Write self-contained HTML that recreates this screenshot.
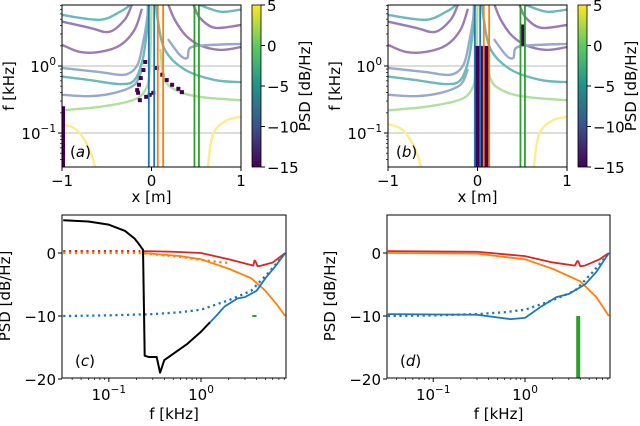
<!DOCTYPE html>
<html><head><meta charset="utf-8"><style>
body{margin:0;background:#fff}
svg{display:block;font-family:"DejaVu Sans","Liberation Sans",sans-serif}
</style></head><body>
<svg id="fig" width="640" height="426" viewBox="0 0 640 426" xmlns="http://www.w3.org/2000/svg">
<defs>
<linearGradient id="vir" x1="0" y1="1" x2="0" y2="0">
<stop offset="0" stop-color="#440154"/><stop offset="0.25" stop-color="#3b528b"/><stop offset="0.5" stop-color="#21918c"/><stop offset="0.75" stop-color="#5ec962"/><stop offset="1" stop-color="#fde725"/>
</linearGradient>
</defs>
</svg>
<script>
// ---- Data: top maps (x in m, log10 f in kHz) ----
const contourLevels = ['purple','purple','purple','purple','bluegrey','bluegrey','bluegrey','teal','teal','teal','teal','green','green','yellow','yellow'];
const contourPaths = [
 [[-0.99,0.31],[-0.80,0.21],[-0.58,0.21],[-0.35,0.31],[-0.19,0.54],[-0.11,0.84]],
 [[-0.99,0.66],[-0.69,0.57],[-0.47,0.51],[-0.30,0.69],[-0.22,0.91]],
 [[0.99,0.28],[0.77,0.24],[0.54,0.31],[0.38,0.46],[0.26,0.69],[0.19,0.91]],
 [[0.99,0.61],[0.71,0.57],[0.54,0.72],[0.47,0.91]],
 [[-0.99,-0.03],[-0.58,-0.09],[-0.30,-0.13],[-0.16,0.01],[-0.10,0.31],[-0.05,0.69],[-0.04,0.91]],
 [[-0.99,-0.43],[-0.69,-0.45],[-0.41,-0.40],[-0.19,-0.28],[-0.11,-0.06]],
 [[0.19,0.39],[0.32,0.16],[0.40,0.12],[0.43,0.27],[0.60,0.31],[0.99,0.33]],
 [[-0.99,-0.16],[-0.69,-0.21],[-0.35,-0.27],[-0.19,-0.21],[-0.10,0.09],[-0.05,0.54],[-0.03,0.91]],
 [[0.99,-0.24],[0.71,-0.21],[0.38,-0.06],[0.15,0.24],[0.07,0.69],[0.05,0.91]],
 [[-0.99,0.76],[-0.58,0.69],[-0.35,0.81],[-0.24,0.91]],
 [[0.54,0.91],[0.77,0.81],[0.99,0.84]],
 [[-0.99,-0.66],[-0.58,-0.61],[-0.21,-0.51],[-0.07,-0.36],[-0.02,-0.06],[0,0.91]],
 [[0.10,0.24],[0.15,-0.21],[0.32,-0.39],[0.54,-0.46],[0.77,-0.49],[0.99,-0.51]],
 [[-1.0,-0.87],[-0.86,-0.93],[-0.75,-1.10],[-0.67,-1.33],[-0.63,-1.51]],
 [[0.99,-0.76],[0.84,-0.81],[0.71,-0.96],[0.66,-1.18],[0.63,-1.51]]
];
const darkCellsA = [[-0.07,0.06],[-0.09,-0.06],[-0.12,-0.18],[-0.14,-0.28],[-0.16,-0.36],[-0.15,-0.40],[0.06,-0.03],[0.12,-0.13],[0.17,-0.21],[0.23,-0.28],[0.30,-0.34],[0.34,-0.39],[-0.13,-0.51],[-0.06,-0.46],[-0.02,-0.43],[0.02,-0.40]];
const vlineX = [-0.03,0.03,0.07,0.13,0.48,0.53];
const vlineColor = ['#1f77b4','#1f77b4','#ff7f0e','#ff7f0e','#2ca02c','#2ca02c'];
const cbTicks = [5,0,-5,-10,-15];
// ---- Data: bottom spectra (f in kHz, PSD in dB/Hz) ----
const cBlackF = [0.032,0.06,0.1,0.15,0.19,0.21,0.235,0.245,0.27,0.33,0.36,0.4,0.5,0.7,1.0,1.25];
const cBlackV = [5.2,5.0,4.5,3.5,2.3,1.5,0.5,-16.3,-16.5,-16.5,-19,-17,-16,-14.5,-12.5,-11];
const cBlueF = [1.2,1.5,1.8,2.5,3.0,4.0,5.0,6.5,8.2];
const cBlueV = [-11.3,-9.8,-8.5,-7.2,-7.0,-6.0,-4.0,-2.0,0];
const blueDotF = [0.032,0.1,0.3,0.6,1.0,2.0,3.5,5.5,8.2];
const blueDotV = [-10,-9.9,-9.7,-9.4,-9,-7.5,-6,-3,0];
const cRedDotF = [0.032,0.22];
const cRedDotV = [0.3,0.3];
const cRedF = [0.24,0.5,1.0,2.0,3.7,3.8,3.9,4.1,4.5,6.0,8.2];
const cRedV = [0.3,0.2,0,-1,-2,-1.2,-1.3,-2.1,-2,-1.5,0];
const cOrDotF = [0.032,0.22,0.6,1.0,2.0];
const cOrDotV = [0,0,-0.6,-1.1,-1.6];
const orangeF = [0.24,0.6,1.0,2.0,3.5,5.0,6.5,8.2];
const orangeV = [0,-0.5,-1,-2.5,-4,-6,-8,-10];
const cGreenF = [3.6,4.0];
const cGreenV = [-10,-10];
const dRedF = [0.032,0.3,1.0,2.0,3.5,3.7,3.8,4.0,4.5,6.5,8.2];
const dRedV = [0.3,0.2,-0.5,-1.5,-2,-1.3,-1.3,-2.1,-2,-1,0];
const dOrF = [0.032,0.3,1.0,2.0,4.0,6.0,8.2];
const dOrV = [0,-0.1,-1,-2.5,-4.5,-7,-10];
const dBlueF = [0.032,0.3,0.7,1.0,1.5,2.2,3.0,4.5,6.0,8.2];
const dBlueV = [-9.7,-9.8,-10.5,-10.3,-8.5,-7,-6.5,-5,-3,0];
const dGreenF = [3.8,3.8];
const dGreenV = [-20,-10];
const yTicksB = [0,-10,-20];

const NS='http://www.w3.org/2000/svg';
const svg=document.getElementById('fig');
const FS=15;
function el(tag,attrs,parent,text){const e=document.createElementNS(NS,tag);for(const k in attrs)e.setAttribute(k,attrs[k]);if(text!==undefined)e.textContent=text;(parent||svg).appendChild(e);return e;}
function smooth(pts){let d='M'+pts[0][0]+','+pts[0][1];
  for(let i=0;i<pts.length-1;i++){const p0=pts[Math.max(i-1,0)],p1=pts[i],p2=pts[i+1],p3=pts[Math.min(i+2,pts.length-1)];
    d+=' C'+(p1[0]+(p2[0]-p0[0])/6)+','+(p1[1]+(p2[1]-p0[1])/6)+' '+(p2[0]-(p3[0]-p1[0])/6)+','+(p2[1]-(p3[1]-p1[1])/6)+' '+p2[0]+','+p2[1];}
  return d;}
const cmap={purple:'#9a7cb2',bluegrey:'#9aa8cc',teal:'#6cbab8',green:'#b0e0a0',yellow:'#fcec8c'};

function topPanel(x0,label,isB,cbx){
  const x1=x0+179, y0=5, y1=167;
  const X=v=>x0+(v+1)/2*(x1-x0);
  const Y=lf=>66-67*lf;
  const g=el('g',{},svg);
  
  
  const cp=el('clipPath',{id:'clip'+label},g);el('rect',{x:x0,y:y0,width:x1-x0,height:y1-y0},cp);
  const inner=el('g',{'clip-path':'url(#clip'+label+')'},g);
  [0,-1].forEach(lf=>{const l=el('line',{x1:x0,x2:x1,y1:Y(lf),y2:Y(lf),stroke:'#c8c8c8','stroke-width':1.3},inner);
    });
  contourPaths.forEach((p,i)=>{
    const c=el('path',{d:smooth(p.map(q=>[X(q[0]),Y(q[1])])),fill:'none',stroke:cmap[contourLevels[i]],'stroke-width':2.4,'stroke-linecap':'round'},inner);
    
  });
  if(!isB){
    darkCellsA.forEach(q=>{const r=el('rect',{x:X(q[0])-2,y:Y(q[1])-2,width:4,height:4,fill:'#440154'},inner);
      });
    const eb=el('rect',{x:x0,y:Y(-0.6),width:3,height:y1-Y(-0.6),fill:'#440154'},inner);
    
  } else {
    const col=el('rect',{x:X(-0.03),y:Y(0.3),width:X(0.14)-X(-0.03),height:y1-Y(0.3),fill:'#440154'},inner);
    
    const col2=el('rect',{x:X(0.50)-2,y:Y(0.62),width:4,height:Y(0.3)-Y(0.62),fill:'#440154'},inner);
    
  }
  vlineX.forEach((v,i)=>{const l=el('line',{x1:X(v),x2:X(v),y1:y0,y2:y1,stroke:vlineColor[i],'stroke-width':1.8},inner);
    });
  const fr=el('rect',{x:x0,y:y0,width:x1-x0,height:y1-y0,fill:'none',stroke:'#000','stroke-width':1},g);
  
  [-1,0,1].forEach(v=>{el('line',{x1:X(v),x2:X(v),y1:y1,y2:y1+4,stroke:'#000'},g);
    const t=el('text',{x:X(v),y:y1+19,'font-size':FS,'text-anchor':'middle'},g,v<0?'\u22121':String(v));
    });
  [0,-1].forEach(lf=>{el('line',{x1:x0-4,x2:x0,y1:Y(lf),y2:Y(lf),stroke:'#000'},g);
    const t=el('text',{x:x0-6,y:Y(lf)+6,'font-size':FS,'text-anchor':'end'},g);
    
    t.textContent='10';el('tspan',{dy:-7,'font-size':10.5},t,lf===0?'0':'\u22121');});
  for(let d=-2;d<=0;d++)for(let m=2;m<=9;m++){const lf=d+Math.log10(m);const y=Y(lf);if(y>=y0&&y<=y1)el('line',{x1:x0-2,x2:x0,y1:y,y2:y,stroke:'#000','stroke-width':0.7},g);}
  const xl=el('text',{x:(x0+x1)/2,y:y1+35,'font-size':FS,'text-anchor':'middle'},g,'x [m]');
  
  const yl=el('text',{x:0,y:0,'font-size':FS,'text-anchor':'middle',transform:`translate(${x0-48},86) rotate(-90)`},g,'f [kHz]');
  
  const pl=el('text',{x:x0+8,y:157,'font-size':FS},g);
  pl.innerHTML='(<tspan font-style="italic">'+label+'</tspan>)';
  
  const cb=el('rect',{x:cbx,y:y0,width:9,height:y1-y0,fill:'url(#vir)',stroke:'#000','stroke-width':0.8},g);
  
  cbTicks.forEach(v=>{const y=y0+(5-v)/20*(y1-y0);el('line',{x1:cbx+9,x2:cbx+13,y1:y,y2:y,stroke:'#000'},g);
    const t=el('text',{x:cbx+15,y:y+6,'font-size':FS},g,v<0?'\u2212'+(-v):String(v));
    });
  const ct=el('text',{x:0,y:0,'font-size':FS,'text-anchor':'middle',transform:`translate(${cbx+58},86) rotate(-90)`},g,'PSD [dB/Hz]');
  
}
topPanel(62,'a',false,252);
topPanel(388,'b',true,578);

function bottomPanel(x0,x1,xd0,label,series){
  const y0=215,y1=378;
  const dec=(x1-x0)/2.43;
  const X=f=>xd0+dec*Math.log10(f);
  const Y=v=>253-6.3*v;
  const g=el('g',{},svg);
  
  
  const cp=el('clipPath',{id:'clip'+label},g);el('rect',{x:x0,y:y0,width:x1-x0,height:y1-y0},cp);
  const inner=el('g',{'clip-path':'url(#clip'+label+')'},g);
  series.forEach(s=>{
    const p=el('polyline',{points:s.f.map((f,i)=>X(f)+','+Y(s.v[i])).join(' '),fill:'none',stroke:s.c,'stroke-width':s.w||1.8,'stroke-linejoin':'round'},inner);
    if(s.dash){p.setAttribute('stroke-dasharray','2.2 3.6');p.setAttribute('stroke-width','2.3');}
    
    
  });
  const fr=el('rect',{x:x0,y:y0,width:x1-x0,height:y1-y0,fill:'none',stroke:'#000','stroke-width':1},g);
  
  yTicksB.forEach(v=>{el('line',{x1:x0-4,x2:x0,y1:Y(v),y2:Y(v),stroke:'#000'},g);
    const t=el('text',{x:x0-6,y:Y(v)+6,'font-size':FS,'text-anchor':'end'},g,v<0?'\u2212'+(-v):String(v));
    });
  [-1,0].forEach(lf=>{const x=X(Math.pow(10,lf));el('line',{x1:x,x2:x,y1:y1,y2:y1+4,stroke:'#000'},g);
    const t=el('text',{x:x,y:y1+22,'font-size':FS,'text-anchor':'middle'},g);
    
    t.textContent='10';el('tspan',{dy:-7,'font-size':10.5},t,lf===0?'0':'\u22121');});
  for(let d=-2;d<=0;d++)for(let m=2;m<=9;m++){const x=X(m*Math.pow(10,d));if(x>=x0&&x<=x1)el('line',{x1:x,x2:x,y1:y1,y2:y1+2,stroke:'#000','stroke-width':0.7},g);}
  const xl=el('text',{x:(x0+x1)/2,y:419,'font-size':FS,'text-anchor':'middle'},g,'f [kHz]');
  
  const yl=el('text',{x:0,y:0,'font-size':FS,'text-anchor':'middle',transform:`translate(${x0-52},296) rotate(-90)`},g,'PSD [dB/Hz]');
  
  const pl=el('text',{x:x0+13,y:366,'font-size':FS},g);
  pl.innerHTML='(<tspan font-style="italic">'+label+'</tspan>)';
  
}
bottomPanel(62,286,201,'c',[
 {f:blueDotF,v:blueDotV,c:'#1f77b4',dash:1,n:'blue-dotted-line'},
 {f:cRedDotF,v:cRedDotV,c:'#d62728',dash:1,n:'red-dotted-line'},
 {f:cOrDotF,v:cOrDotV,c:'#ff7f0e',dash:1,n:'orange-dotted-line'},
 {f:orangeF,v:orangeV,c:'#ff7f0e',n:'orange-line'},
 {f:cRedF,v:cRedV,c:'#d62728',n:'red-line'},
 {f:cBlueF,v:cBlueV,c:'#1f77b4',n:'blue-line'},
 {f:cGreenF,v:cGreenV,c:'#2ca02c',w:2,n:'green-line'},
 {f:cBlackF,v:cBlackV,c:'#000',w:2,n:'black-line'}
]);
bottomPanel(387,610,525,'d',[
 {f:blueDotF,v:blueDotV,c:'#1f77b4',dash:1,n:'blue-dotted-line'},
 {f:dOrF,v:dOrV,c:'#ff7f0e',n:'orange-line'},
 {f:dRedF,v:dRedV,c:'#d62728',n:'red-line'},
 {f:dBlueF,v:dBlueV,c:'#1f77b4',n:'blue-line'},
 {f:dGreenF,v:dGreenV,c:'#2ca02c',w:4,n:'green-line'}
]);
</script>
</body></html>
